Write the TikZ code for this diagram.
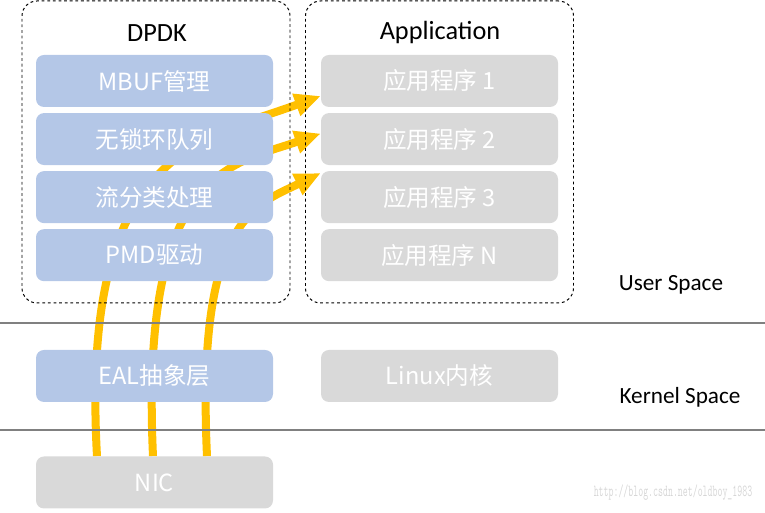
\documentclass[tikz,border=0pt]{standalone}
\usepackage{fontspec}
\setmainfont{Carlito}
\newfontfamily\cjk{Noto Sans CJK SC}
\usepackage{graphicx}
\usetikzlibrary{positioning, calc, arrows.meta}
\definecolor{dpdkblue}{HTML}{B4C7E7}
\definecolor{appgray}{HTML}{D9D9D9}
\definecolor{flowyellow}{HTML}{FFC000}
\definecolor{sepgray}{HTML}{808080}
\definecolor{markgray}{HTML}{D6D6D6}
\pgfdeclarelayer{bg}
\pgfsetlayers{bg,main}

\begin{document}
\begin{tikzpicture}[
    block/.style={rounded corners=0.2cm, minimum width=5.925cm, minimum height=1.3cm, inner sep=0pt, text=white, font=\cjk\fontsize{16.8}{18}\selectfont},
    dpdk/.style={block, fill=dpdkblue},
    app/.style={block, fill=appgray},
    groupbox/.style={draw, line width=0.7pt, dash pattern=on 2pt off 2pt, rounded corners=0.375cm, minimum width=6.7cm, minimum height=7.55cm},
    title/.style={font=\fontsize{18.7}{20}\selectfont},
    space/.style={font=\fontsize{16.5}{18}\selectfont},
    sep/.style={sepgray, line width=1pt},
    flow/.style={flowyellow, line width=0.2cm, -{Triangle[length=0.65cm, width=0.55cm]}},
    node distance=0.1375cm
]
\useasboundingbox (0,0) rectangle (19.125,12.825);

% user space groups
\node[groupbox] (dpdkgroup) at (3.9,9.025) {};
\node[groupbox] (appgroup) at (10.9875,9.025) {};
\node[title] (dpdktitle) at (3.925,12.0) {DPDK};
\node[title] (apptitle) at (11.0,12.0) {Application};

% DPDK stack
\node[dpdk] (mbuf) at (3.8625,10.8) {MBUF管理};
\node[dpdk, below=of mbuf] (ring) {无锁环队列};
\node[dpdk, below=of ring] (classify) {流分类处理};
\node[dpdk, below=of classify] (pmd) {PMD驱动};

% applications
\node[app] (app1) at (10.9875,10.8) {应用程序 1};
\node[app, below=of app1] (app2) {应用程序 2};
\node[app, below=of app2] (app3) {应用程序 3};
\node[app, below=of app3] (appn) {应用程序 N};

% kernel space
\node[dpdk] (eal) at (3.8625,3.425) {EAL抽象层};
\node[app] (linux) at (10.9875,3.425) {Linux内核};

% hardware
\node[app] (nic) at (3.8625,0.7625) {NIC};

% separators
\coordinate (userl) at (0,4.75);
\coordinate (userr) at (19.125,4.75);
\coordinate (kernl) at (0,2.075);
\coordinate (kernr) at (19.125,2.075);
\draw[sep] (userl) -- (userr);
\draw[sep] (kernl) -- (kernr);

\node[space] (userspace) at (16.775,5.7) {User Space};
\node[space] (kernelspace) at (17.0,2.9) {Kernel Space};

\node[text=markgray, font=\ttfamily\fontsize{12}{13}\selectfont] (mark) at (16.825,0.5) {\scalebox{0.57}[1]{http://blog.csdn.net/oldboy\_1983}};

% packet flows
\coordinate (in1) at ($(app1.west)+(0,-0.375)$);
\coordinate (in2) at ($(app2.west)+(0,0.1375)$);
\coordinate (in3) at ($(app3.west)+(0,0.6)$);
\begin{pgfonlayer}{bg}
\draw[flow] ([xshift=-1.4375cm]nic.north) .. controls (2.0,9.075) and (5.0,9.325) .. (in1);
\draw[flow] ([xshift=-0.0375cm]nic.north) .. controls (3.5,8.575) and (5.75,8.7) .. (in2);
\draw[flow] ([xshift=1.3125cm]nic.north) .. controls (4.9,7.325) and (6.375,7.7) .. (in3);
\end{pgfonlayer}
\end{tikzpicture}
\end{document}
